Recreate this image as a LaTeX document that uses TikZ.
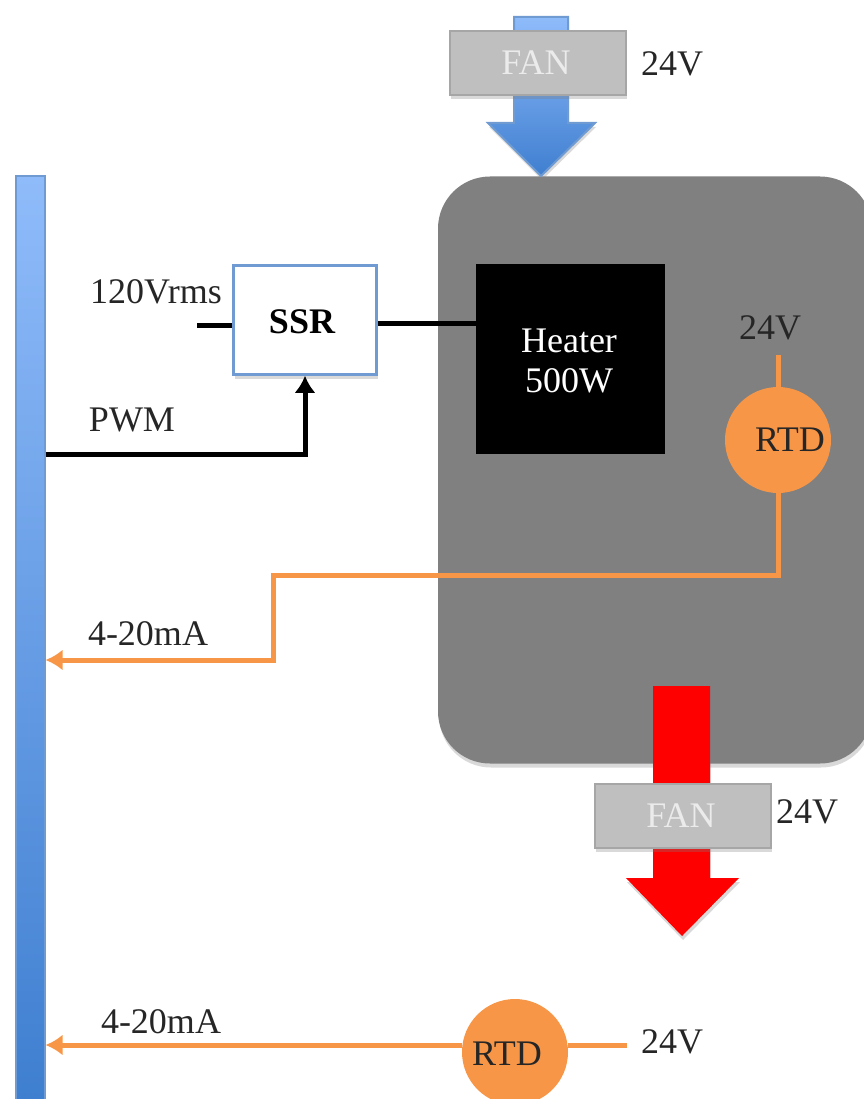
\documentclass[tikz,border=0pt]{standalone}
\usepackage{fontspec}
\setmainfont{Liberation Serif}
\usetikzlibrary{arrows.meta,shadows}
\definecolor{busblue}{HTML}{8FBBFA}
\definecolor{busdark}{HTML}{3F7FD0}
\definecolor{rtdorange}{HTML}{F79646}
\definecolor{fangray}{HTML}{BFBFBF}
\definecolor{ssrblue}{HTML}{6F9BD2}
\begin{document}
\begin{tikzpicture}[x=1pt,y=-1pt,
	softshadow/.style={drop shadow={opacity=.3,shadow xshift=1pt,shadow yshift=-4pt}},
	lbl/.style={font=\fontsize{36}{40}\selectfont,inner sep=0pt,text=black!85},
	fanbox/.style={rectangle,fill=fangray,draw=black!35,line width=2pt,minimum width=176pt,minimum height=64pt,inner sep=0pt,softshadow},
	rtdnode/.style={circle,fill=rtdorange,minimum size=106pt,inner sep=0pt},
	blackline/.style={line width=5pt,black},
	orangeline/.style={line width=5pt,rtdorange},
	arrowtip/.style={-{Latex[length=17pt,width=21pt]}},
	]
	\useasboundingbox (0,0) rectangle (863,1099);
	% bus and chamber
	\node[rectangle,minimum width=29pt,minimum height=924pt,inner sep=0pt,top color=busblue,bottom color=busdark,draw=ssrblue,line width=2pt,softshadow] (bus) at (30,638) {};
	\node[rectangle,rounded corners=52pt,fill=black!50,minimum width=434pt,minimum height=587pt,inner sep=0pt,softshadow] (chamber) at (655,470) {};
	% air arrows
	\draw[top color=busblue,bottom color=busdark,draw=ssrblue,line width=2pt,softshadow] (514,17) -- (568,17) -- (568,123) -- (595,123) -- (541,176) -- (488,123) -- (514,123) -- cycle;
	\fill[red,softshadow] (653,686) -- (710,686) -- (710,878) -- (739,878) -- (682,936) -- (626,878) -- (653,878) -- cycle;
	\node[fanbox] (fantop) at (538,63.5) {};
	\node[fanbox] (fanbot) at (682.5,816) {};
	\node[lbl,text=white!92!black] (fantoptext) at (536,63) {FAN};
	\node[lbl,text=white!92!black] (fanbottext) at (681,816) {FAN};
	\node[lbl,anchor=west] (fantopv) at (641,64) {24V};
	\node[lbl,anchor=west] (fanbotv) at (776,812) {24V};
	% blocks
	\node[rectangle,fill=white,draw=ssrblue,line width=2.5pt,minimum width=143pt,minimum height=109pt,inner sep=0pt,softshadow] (ssr) at (305,320) {};
	\node[rectangle,fill=black,minimum width=189pt,minimum height=190pt,inner sep=0pt] (heater) at (570.5,359) {};
	\node[rtdnode] (rtda) at (778,440) {};
	\node[rtdnode] (rtdb) at (515,1052) {};
	\node[lbl,text=black,font=\fontsize{36}{40}\selectfont\bfseries] (ssrtext) at (302,322) {SSR};
	\node[lbl,text=white,align=center,font=\fontsize{36}{40}\selectfont] (heatertext) at (569,361) {Heater\\500W};
	\node[lbl] (rtdatext) at (790,440) {RTD};
	\node[lbl] (rtdbtext) at (507,1054) {RTD};
	\node[lbl] (rtdav) at (770,328) {24V};
	\node[lbl,anchor=west] (rtdbv) at (641,1042) {24V};
	\node[lbl] (mains) at (156,292) {120Vrms};
	\node[lbl] (pwm) at (132,420) {PWM};
	\node[lbl] (loopa) at (148,634) {4-20mA};
	\node[lbl] (loopb) at (161,1022) {4-20mA};
	% wiring
	\coordinate (mainsend) at (197,325);
	\coordinate (jog) at (273,575);
	\coordinate (joglow) at (273,660);
	\coordinate (heaterin) at (476,323);
	\coordinate (rtdbend) at (627,1045);
	\draw[blackline] (mainsend) -- (mainsend -| ssr.west);
	\draw[blackline] (heaterin -| ssr.east) -- (heaterin);
	\draw[blackline,arrowtip] (bus.east |- heater.south) -| (ssr.south);
	\draw[orangeline,shorten >=15pt] (rtda.north) -- (rtda.north |- rtdav.south);
	\draw[orangeline,arrowtip] (rtda.south) |- (jog) -- (joglow) -- (joglow -| bus.east);
	\draw[orangeline] (rtdbend) -- (rtdbend -| rtdb.east);
	\draw[orangeline,arrowtip] (rtdbend -| rtdb.west) -- (rtdbend -| bus.east);
\end{tikzpicture}
\end{document}
